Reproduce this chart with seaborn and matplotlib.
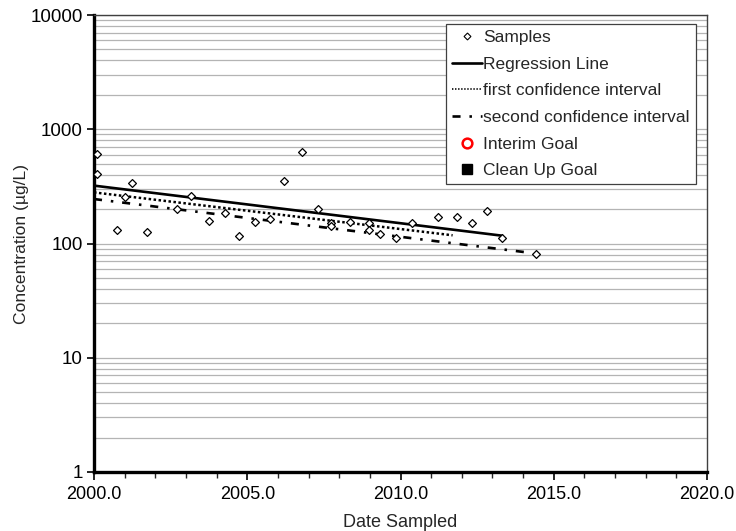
import matplotlib
matplotlib.use("Agg")
import matplotlib.pyplot as plt
from matplotlib.lines import Line2D
from matplotlib.ticker import LogLocator, FixedLocator, NullFormatter, FuncFormatter
import seaborn as sns
import pandas as pd
import numpy as np

# ---- data ----
sample_years = [2000.1, 2000.1, 2000.74, 2001.0, 2001.23, 2001.72, 2002.70, 2003.15,
                2003.74, 2004.28, 2004.74, 2005.26, 2005.75, 2006.21, 2006.80, 2007.32,
                2007.73, 2007.73, 2008.35, 2008.96, 2008.96, 2009.33, 2009.84, 2010.38,
                2011.23, 2011.83, 2012.32, 2012.82, 2013.32, 2014.41]
sample_conc = [605, 408, 130, 254, 337, 126, 201, 259,
               157, 184, 117, 153, 163, 353, 627, 201,
               152, 142, 153, 152, 132, 122, 111, 152,
               172, 172, 152, 193, 111, 81]

regression_years = [2000.0, 2013.32]
regression_conc = [321, 117]
first_ci_years = [2000.0, 2011.70]
first_ci_conc = [280, 118]
second_ci_years = [2000.0, 2014.22]
second_ci_conc = [245, 83]

x_ticks = [2000, 2005, 2010, 2015, 2020]
y_ticks = [1, 10, 100, 1000, 10000]

# ---- style ----
sns.set_style("white")
plt.rcParams['font.family'] = ['Liberation Sans', 'DejaVu Sans']
plt.rcParams['lines.scale_dashes'] = False

fig = plt.figure(figsize=(7.36, 5.31), dpi=100)
ax = fig.add_axes([94/736, 1-472/531, (707-94)/736, (472-15)/531])

samples = pd.DataFrame({"year": sample_years, "conc": sample_conc})
reg = pd.DataFrame({"year": regression_years, "conc": regression_conc})
ci1 = pd.DataFrame({"year": first_ci_years, "conc": first_ci_conc})
ci2 = pd.DataFrame({"year": second_ci_years, "conc": second_ci_conc})

ax.set_yscale("log")
ax.set_xlim(2000, 2020)
ax.set_ylim(1, 10000)

# gridlines (minor + major, horizontal)
ax.yaxis.set_major_locator(FixedLocator(y_ticks))
ax.yaxis.set_minor_locator(LogLocator(base=10, subs=np.arange(2, 10)))
ax.yaxis.set_minor_formatter(NullFormatter())
ax.yaxis.set_major_formatter(FuncFormatter(lambda v, p: f"{int(v)}"))
ax.grid(True, axis='y', which='both', color='#b4b4b4', linewidth=0.9)
ax.set_axisbelow(True)

sns.lineplot(data=reg, x="year", y="conc", ax=ax, color='black', linewidth=1.9,
             estimator=None, sort=False, zorder=3)
sns.lineplot(data=ci1, x="year", y="conc", ax=ax, color='black', linewidth=1.8,
             estimator=None, sort=False, zorder=3, dashes=False)
ax.lines[-1].set_dashes([1.8, 1.8])
sns.lineplot(data=ci2, x="year", y="conc", ax=ax, color='black', linewidth=1.9,
             estimator=None, sort=False, zorder=3, dashes=False)
ax.lines[-1].set_dashes([5.8, 6.4, 1.8, 6.4])
sns.scatterplot(data=samples, x="year", y="conc", ax=ax, marker='D', s=16,
                facecolor='white', edgecolor='black', linewidth=0.9, zorder=4)

# axes
ax.xaxis.set_major_locator(FixedLocator(x_ticks))
ax.xaxis.set_minor_locator(FixedLocator(list(range(2000, 2021))))
ax.xaxis.set_major_formatter(FuncFormatter(lambda v, p: f"{v:.1f}"))
ax.tick_params(axis='x', which='major', direction='out', length=6, width=1.2,
               labelsize=13, pad=4, colors='black', bottom=True)
ax.tick_params(axis='x', which='minor', direction='out', length=4, width=1.0,
               bottom=True)
ax.tick_params(axis='y', which='major', direction='out', length=5, width=1.2,
               labelsize=13.5, pad=3, colors='black', left=True)
ax.tick_params(axis='y', which='minor', length=0)

for s in ['left', 'bottom']:
    ax.spines[s].set_color('black')
    ax.spines[s].set_linewidth(2.4)
for s in ['top', 'right']:
    ax.spines[s].set_color('#404040')
    ax.spines[s].set_linewidth(1.0)
    ax.spines[s].set_visible(True)

ax.set_xlabel("Date Sampled", fontsize=13, labelpad=8)
ax.set_ylabel("Concentration (µg/L)", fontsize=12.6, labelpad=1)

handles = [
    Line2D([], [], marker='D', markersize=3.5, markerfacecolor='white',
           markeredgecolor='black', markeredgewidth=0.8, linestyle='None'),
    Line2D([], [], color='black', linewidth=1.9),
    Line2D([], [], color='black', linewidth=1.2, dashes=[1.0, 1.2]),
    Line2D([], [], color='black', linewidth=1.9, dashes=[5.8, 6.4, 1.8, 6.4]),
    Line2D([], [], marker='o', markersize=7, markerfacecolor='none',
           markeredgecolor='red', markeredgewidth=1.8, linestyle='None'),
    Line2D([], [], marker='s', markersize=7, markerfacecolor='black',
           markeredgecolor='black', linestyle='None'),
]
labels = ["Samples", "Regression Line", "first confidence interval",
          "second confidence interval", "Interim Goal", "Clean Up Goal"]
leg = ax.legend(handles, labels, loc='upper right', bbox_to_anchor=(696/736, 1-24/531),
                bbox_transform=fig.transFigure, fontsize=12.5, frameon=True,
                fancybox=False, edgecolor='#404040', framealpha=1,
                handlelength=1.75, handletextpad=0.08, labelspacing=0.66,
                borderpad=0.35, borderaxespad=0)
leg.get_frame().set_linewidth(0.9)

fig.savefig("out.png", dpi=100)
